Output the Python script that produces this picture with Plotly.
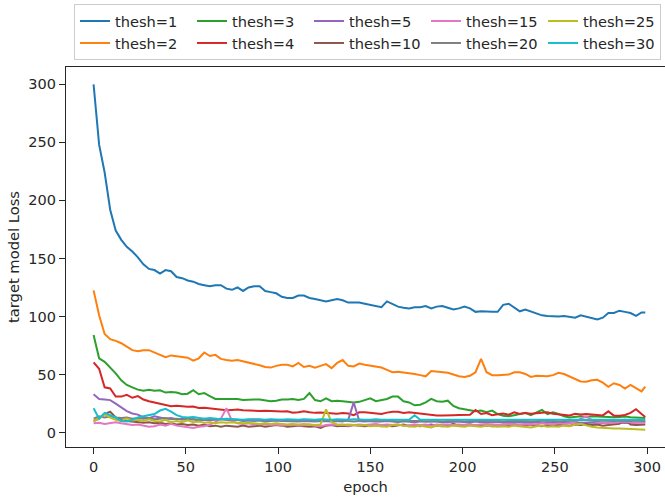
import plotly.graph_objects as go

epochs = list(range(0, 300, 3)) + [299]

loss_1 = [300, 248, 224, 192, 174, 166, 160, 156, 151, 145,
          141, 140, 137, 140, 139, 134, 133, 131, 130, 128,
          127, 126, 127, 127, 124, 123, 125, 122, 125, 126,
          126, 122, 121, 120, 117, 116, 116, 118, 118, 116,
          115, 114, 113, 114, 115, 114, 112, 112, 112, 111,
          110, 109, 108, 113, 111, 108.5, 107.5, 107, 108, 108,
          109, 107, 108.5, 109, 107.5, 106, 107, 108.5, 107, 104,
          104.5, 104, 104, 104, 110, 111, 107.5, 104.5, 106, 104.5,
          103, 101, 100.5, 100, 100, 100.5, 100, 99, 101, 100,
          99, 97.5, 99, 103, 103, 105, 104, 103, 100.5, 103.5, 103.5]

loss_2 = [122.5, 101, 85, 80.5, 79, 77, 74, 71, 70, 71,
          71, 69, 67, 65, 66.5, 66, 65.5, 64.5, 62, 64,
          69, 66, 67, 63.5, 62.5, 62, 62.5, 61.5, 60.5, 59.5,
          58, 56.5, 56, 57.5, 58.5, 58.5, 57, 60, 56.5, 57.5,
          56, 57.5, 59, 55.5, 60, 62.5, 57.5, 57, 59.5, 58.5,
          57.5, 57, 56, 54, 52, 52.5, 52, 51, 50.5, 49.5,
          48.5, 53, 52.5, 52.5, 51.5, 50, 48.5, 48, 49, 52,
          63.5, 52, 49.5, 49.5, 49.5, 50, 52, 52, 50.5, 48,
          49, 49, 48.5, 49.5, 51.5, 50.5, 48.5, 46.5, 44, 43.8,
          45, 45.5, 43, 39.5, 42.5, 41, 38, 41, 38.5, 35.5, 39.5]

loss_3 = [84, 64, 61, 56, 51, 45, 41, 39, 37, 36,
          37, 36, 36.5, 34.5, 35, 34.5, 33, 33.5, 36.5, 33,
          34, 31.5, 29, 29, 29, 29.5, 29, 28, 28.5, 28.5,
          28.5, 28, 27, 27.5, 28.5, 28.5, 29, 28, 29, 34,
          28, 27, 29.5, 27, 27.5, 27, 26.5, 26, 26.5, 28,
          29.5, 27, 28, 29, 31, 31, 27, 26, 23.5, 24,
          26, 29, 27, 26.5, 27.5, 23, 21, 20, 19.5, 18.5,
          19, 17.5, 19, 16, 14.5, 14, 15, 16, 17, 15,
          17, 19.5, 16, 17.5, 16, 14, 13, 13.5, 14, 13.5,
          14, 13.8, 13.5, 13, 13.3, 13.5, 13.8, 13.2, 13, 12.8, 12.5]

loss_4 = [60.5, 55, 39, 38, 31, 31, 32.5, 30, 31.5, 28.5,
          27, 26, 24.5, 24, 22.8, 23.2, 22.5, 22.3, 22.5, 21.2,
          21.5, 21, 20.5, 20, 19.3, 19.5, 19.8, 19.3, 19, 18.5,
          18.6, 18.9, 18.5, 18.3, 18.2, 18.4, 17.2, 17.5, 18.3, 17.5,
          17, 17.3, 16.9, 16.5, 16.3, 16.8, 16.5, 15, 17.5, 17.5,
          16.8, 16.4, 16, 17.2, 18, 18, 17, 17.6, 17, 16.9,
          16, 15.4, 14.8, 14.7, 14.6, 15, 15.2, 15.2, 15.3, 19.5,
          16, 16.9, 15, 15.8, 16.5, 15.5, 17.5, 16, 16.8, 16.2,
          16.5, 16.9, 17.5, 16.3, 15.6, 15, 14.8, 16.2, 15.5, 16,
          15.6, 15, 14.8, 18.3, 14.6, 14.6, 15.2, 17, 20.2, 16, 13.5]

loss_5 = [33, 29, 28.5, 28, 25, 21.5, 18.5, 16.5, 15.5, 13,
          12.5, 14, 13, 12, 12.5, 11.5, 12, 11, 11.5, 10.5,
          11, 10.5, 11.5, 12, 11, 10.5, 11, 10, 10.5, 10,
          10.5, 9.5, 10, 10.5, 10, 9.8, 10.2, 9.5, 10, 9.8,
          9.5, 10, 9.8, 9.5, 10, 9.5, 11, 26, 10, 9.5,
          10, 9.8, 9.5, 10, 9.5, 9.2, 9.8, 9.5, 9, 9.5,
          9.5, 9, 9.5, 8.8, 9.2, 9, 9.5, 9, 8.8, 9.5,
          9, 9.2, 8.8, 9, 9.2, 8.5, 9, 8.8, 8.5, 9,
          8.8, 8.5, 9, 8.5, 9, 8.8, 8.5, 8.6, 8.3, 8.5,
          8.8, 8.5, 8.3, 8.6, 8.8, 8.5, 8.2, 8.5, 8.8, 8.5, 9]

loss_10 = [10, 12, 16, 18, 13, 11, 10, 9.5, 9, 8.5,
           9, 8, 8.5, 7.5, 8, 7, 7.5, 6.5, 7, 6,
           7, 5.5, 6, 5, 6, 5.5, 5, 6, 5, 5.5,
           6, 5, 5.5, 6.5, 6, 5, 5.5, 6, 5.5, 5,
           5.5, 4, 6, 6.5, 5.5, 6, 5.5, 6.5, 6, 5.5,
           6, 6.5, 5.5, 6, 5.5, 6, 7, 5.5, 6, 5.5,
           6.5, 7, 6, 5.5, 6, 7.5, 6, 6.5, 7, 6,
           6.5, 6, 5.5, 6, 7, 6.5, 7, 6, 6.5, 7,
           6, 5.5, 6.5, 6, 7, 6.5, 6, 7, 6.5, 7.5,
           6.5, 7, 6, 6.5, 7, 7.5, 11, 7, 6.5, 7, 7]

loss_15 = [8, 8.5, 7.5, 8, 9, 8, 7, 6.5, 7, 6,
           5, 5.5, 7, 6, 7.5, 6, 5.5, 4.5, 4, 5,
           5.5, 7, 9, 12, 21, 10, 8, 7.5, 8, 7,
           7.5, 7, 6.5, 7, 6, 6.5, 7, 6, 6.5, 7,
           6, 5.5, 6.5, 7, 6.5, 7, 6, 6.5, 7, 6.5,
           7, 7.5, 6.5, 7, 6.5, 7, 6, 6.5, 7, 6.5,
           7, 6, 7, 6.5, 7, 6.5, 7, 6.5, 7, 6.5,
           7, 7.5, 7, 6.5, 7, 7.5, 7, 6.5, 7, 7.5,
           7, 8, 7.5, 7, 8, 7.5, 8, 9, 12, 14,
           11, 9, 8.5, 8, 8.5, 9, 9.5, 9, 8.5, 9, 9]

loss_20 = [12, 14, 13, 14, 13, 12.5, 13, 12, 12.5, 12,
           12.5, 11.5, 12, 12.5, 11.5, 12, 11, 12, 11.5, 11,
           12, 11.5, 11, 11.5, 11, 11.5, 11, 10.5, 11, 11.5,
           11, 10.5, 11, 10.5, 11, 10.5, 10, 10.5, 11, 10.5,
           10, 10.5, 10, 10.5, 10, 10.5, 10, 9.5, 10, 10.5,
           10, 9.5, 10, 10.5, 10, 9.5, 10, 10, 10.5, 10,
           9.5, 10, 10, 9.5, 10, 10.5, 10, 9.5, 10, 10,
           9.5, 10, 10.5, 10, 9.5, 10, 10, 10.5, 10, 9.5,
           10, 10, 10.5, 10, 9.5, 10, 10, 10.5, 11, 10.5,
           10, 10, 10.5, 10, 10, 10.5, 10, 10, 10.5, 10, 10]

loss_25 = [10, 12, 16, 13, 11, 10, 12, 10.5, 11, 10,
           11.5, 10, 9.5, 11, 9, 10, 9, 10.5, 9, 9.5,
           8.5, 9, 8, 9, 8.5, 9, 8.5, 8, 8.5, 8,
           7.5, 8, 7.5, 8, 7.5, 7, 7.5, 7, 7.5, 7,
           6.5, 7, 20, 9, 7, 6.5, 7, 6.5, 6, 6.5,
           5.5, 6, 5.5, 5, 6.5, 7, 6, 5.5, 5, 6,
           5.5, 4.5, 6, 5.5, 5, 6, 5.5, 5, 6, 5.5,
           5, 6, 5.5, 5, 5.5, 5, 6, 5.5, 5, 4.5,
           5.5, 6, 5, 5.5, 5, 6, 5.5, 7, 7.5, 6,
           5, 4.5, 4, 4, 3.5, 3.5, 3, 3, 2.8, 2.6, 2.5]

loss_30 = [21, 12, 17, 15, 13, 10, 9.5, 11, 13, 14,
           15, 16, 19, 20.5, 18, 15, 13.5, 13, 13.5, 12.5,
           12, 12.5, 12, 11.5, 12, 11.5, 11.5, 11, 11.5, 11,
           11.5, 11, 11.5, 11, 11, 11.5, 11, 11, 11.5, 11,
           11, 11.5, 11, 11, 11.5, 11, 11, 11.5, 11, 11,
           11, 11.5, 11, 11, 11, 11.5, 11, 11, 15, 11,
           11, 11, 11.5, 11, 11, 11, 11, 11.5, 11, 11,
           11, 11, 11.5, 11, 11, 11, 11, 11, 11.5, 11,
           11, 11, 11, 11, 11, 11, 11, 11, 11, 11,
           11, 11, 11, 11, 11, 11, 11, 11, 11, 11, 11]

series_names = ["thesh=1", "thesh=2", "thesh=3", "thesh=4", "thesh=5",
                "thesh=10", "thesh=15", "thesh=20", "thesh=25", "thesh=30"]
series_values = [loss_1, loss_2, loss_3, loss_4, loss_5,
                 loss_10, loss_15, loss_20, loss_25, loss_30]
colors = ["#1f77b4", "#ff7f0e", "#2ca02c", "#d62728", "#9467bd",
          "#8c564b", "#e377c2", "#7f7f7f", "#bcbd22", "#17becf"]
# legend is filled column-wise in the reference (2 rows x 5 columns)
legend_ranks = [1, 6, 2, 7, 3, 8, 4, 9, 5, 10]

x_ticks = [0, 50, 100, 150, 200, 250, 300]
y_ticks = [0, 50, 100, 150, 200, 250, 300]

FONT = "DejaVu Sans"
TXT = "#262626"

fig = go.Figure()
for name, vals, col, rk in zip(series_names, series_values, colors, legend_ranks):
    fig.add_trace(go.Scatter(x=epochs, y=vals, mode="lines", name=name,
                             line=dict(color=col, width=2), legendrank=rk))

fig.update_layout(
    width=665, height=498,
    margin=dict(l=66, r=0, t=67, b=51, autoexpand=False),
    paper_bgcolor="white", plot_bgcolor="white",
    font=dict(family=FONT, size=14.5, color=TXT),
    showlegend=True,
    legend=dict(orientation="h", xref="container", yref="container",
                x=74 / 665, y=1 - 4 / 498, xanchor="left", yanchor="top",
                bordercolor="#cccccc", borderwidth=1, bgcolor="white",
                entrywidth=72, entrywidthmode="pixels", itemwidth=30,
                font=dict(family=FONT, size=14.6, color=TXT)),
)
fig.update_xaxes(range=[-14.95, 309.7], tickvals=x_ticks, showgrid=False, zeroline=False,
                 automargin=False,
                 showline=True, mirror=True, linecolor=TXT, linewidth=1.25,
                 ticks="outside", ticklen=6, tickwidth=1.25, tickcolor=TXT,
                 title=dict(text="epoch", font=dict(size=14.7), standoff=8))
fig.update_yaxes(range=[-12.4, 314.9], tickvals=y_ticks, showgrid=False, zeroline=False,
                 automargin=False,
                 showline=True, mirror=False, linecolor=TXT, linewidth=1.25,
                 ticks="outside", ticklen=6, tickwidth=1.25, tickcolor=TXT,
                 title=dict(text="target model Loss", font=dict(size=14.7), standoff=5))

fig.write_html("out.html", config={"displayModeBar": False},
               post_script="document.body.style.margin='0';document.body.style.overflow='hidden';")
